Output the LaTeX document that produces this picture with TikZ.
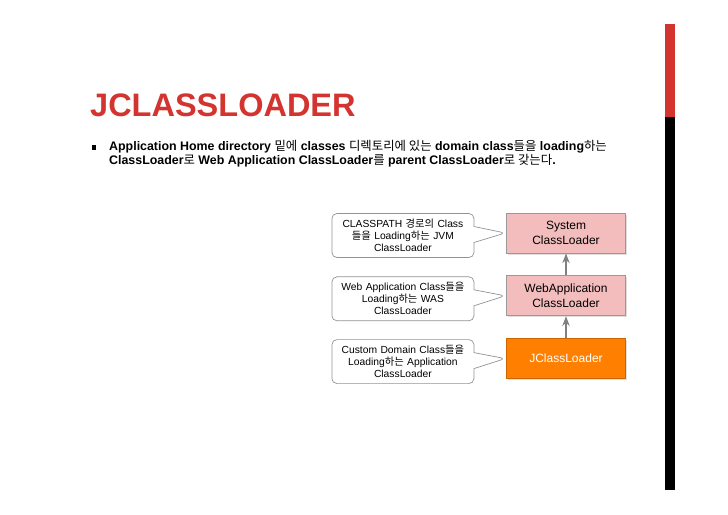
\documentclass[tikz,border=0pt]{standalone}
\usepackage{fontspec}
\setmainfont{Liberation Sans}
\newfontfamily\kr{Noto Sans CJK KR}
\usetikzlibrary{shapes.callouts, arrows.meta, positioning, shadows}
\definecolor{titlered}{HTML}{D3342F}
\definecolor{boxpink}{HTML}{F3BDBD}
\definecolor{boxorange}{HTML}{FF8000}
\newcommand{\ko}[1]{{\kr\mdseries #1}}

\begin{document}
\begin{tikzpicture}[x=1pt, y=-1pt,
    node distance=22pt and 32pt,
    loader/.style = {rectangle, draw=gray!80, line width=0.8pt, text width=112pt, align=center, minimum height=40pt, font=\fontsize{12}{15}\selectfont, fill=boxpink, drop shadow={opacity=0.25, shadow xshift=1.5pt, shadow yshift=-1.5pt}},
    note/.style = {rectangle callout, draw=gray!85, line width=0.7pt, rounded corners=5pt, fill=white, text width=138pt, align=center, minimum height=44pt, inner sep=2pt, callout pointer width=16pt, font=\fontsize{10.3}{12}\selectfont},
    >=Stealth]

    \useasboundingbox (0,0) rectangle (728,514);

    % side bar
    \fill[titlered] (665,24) rectangle (675,117);
    \fill[black] (665,117) rectangle (675,490);

    % title and text
    \node[anchor=south west, inner sep=0pt, text=titlered, font=\fontsize{32.5}{32}\selectfont\bfseries] (title) at (90,117) {JCLASSLOADER};
    \node[fill=black, minimum size=4.5pt, inner sep=0pt] (bullet) at (94,147.5) {};
    \node[anchor=north west, inner sep=0pt, align=left, font=\fontsize{12.4}{14.5}\selectfont\bfseries] (desc) at (109,140)
        {Application Home directory \ko{밑에} classes \ko{디렉토리에 있는} domain class\ko{들을} loading\ko{하는}\\
         ClassLoader\ko{로} Web Application ClassLoader\ko{를} parent ClassLoader\ko{로 갖는다}.};

    % loaders
    \node[loader] (sys) at (566,233) {System\\ClassLoader};
    \node[loader, below=of sys] (web) {WebApplication\\ClassLoader};
    \node[loader, below=of web, fill=boxorange, draw=boxorange!80!black, text=white] (jcl) {JClassLoader};

    % notes
    \node[note, left=of sys, yshift=-2.5pt, callout absolute pointer={([xshift=-1pt]sys.west)}] (n1)
        {CLASSPATH \ko{경로의} Class\\ \ko{들을} Loading\ko{하는} JVM\\ClassLoader};
    \node[note, left=of web, yshift=-3pt, callout absolute pointer={([xshift=-1pt]web.west)}] (n2)
        {Web Application Class\ko{들을}\\Loading\ko{하는} WAS\\ClassLoader};
    \node[note, left=of jcl, yshift=-3pt, callout absolute pointer={([xshift=-1pt]jcl.west)}] (n3)
        {Custom Domain Class\ko{들을}\\Loading\ko{하는} Application\\ClassLoader};

    \draw[->, gray, line width=1.5pt] (web) -- (sys);
    \draw[->, gray, line width=1.5pt] (jcl) -- (web);
\end{tikzpicture}
\end{document}
